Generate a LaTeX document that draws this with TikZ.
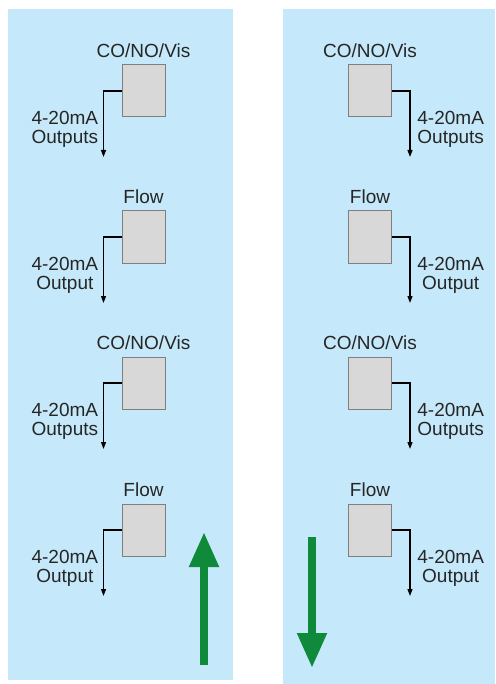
\documentclass[tikz,border=0pt]{standalone}
\usepackage{fontspec}
\setmainfont{Liberation Sans}
\usepackage{tikz}
\usetikzlibrary{positioning, arrows.meta}
\usepackage{xcolor}
\definecolor{panelblue}{HTML}{C5E9FA}
\definecolor{boxgray}{HTML}{D8D8D8}
\definecolor{boxline}{HTML}{7F7F7F}
\definecolor{flowgreen}{HTML}{0F8A3A}

\begin{document}
\begin{tikzpicture}[x=1pt,y=-1pt,thick,
    font=\fontsize{19}{19}\selectfont,
    sensor/.style={draw=boxline,fill=boxgray,line width=1pt,minimum width=43pt,minimum height=52pt,inner sep=0pt},
    tag/.style={inner sep=0pt,text=black!85},
    wire/.style={line width=1.2pt,-{Triangle[length=7pt,width=5pt]}},
    bigarrow/.style={flowgreen,line width=8pt,-{Triangle[length=35pt,width=28pt]}}]
   \useasboundingbox (0,0) rectangle (495,684);
   \fill[panelblue] (8,9) rectangle (233,680);
   \fill[panelblue] (283,9) rectangle (495,684);

   % left column
   \node[sensor] (s1) at (143.5,91) {};
   \node[sensor] (s2) at (143.5,237) {};
   \node[sensor] (s3) at (143.5,383) {};
   \node[sensor] (s4) at (143.5,530) {};
   \node[tag] (n1) [above=6pt of s1] {CO/NO/Vis};
   \node[tag] (n2) [above=6pt of s2] {Flow};
   \node[tag] (n3) [above=6pt of s3] {CO/NO/Vis};
   \node[tag] (n4) [above=6pt of s4] {Flow};
   \coordinate[left=18pt of s1.west] (c1);
   \coordinate[left=18pt of s2.west] (c2);
   \coordinate[left=18pt of s3.west] (c3);
   \coordinate[left=18pt of s4.west] (c4);
   \coordinate[below=66pt of c1] (e1);
   \coordinate[below=66pt of c2] (e2);
   \coordinate[below=66pt of c3] (e3);
   \coordinate[below=66pt of c4] (e4);
   \node[tag,align=center] (o1) [below left=20pt and 5pt of c1] {4-20mA\\Outputs};
   \node[tag,align=center] (o2) [below left=20pt and 5pt of c2] {4-20mA\\Output};
   \node[tag,align=center] (o3) [below left=20pt and 5pt of c3] {4-20mA\\Outputs};
   \node[tag,align=center] (o4) [below left=20pt and 5pt of c4] {4-20mA\\Output};

   % right column
   \node[sensor] (s5) at (370,91) {};
   \node[sensor] (s6) at (370,237) {};
   \node[sensor] (s7) at (370,383) {};
   \node[sensor] (s8) at (370,530) {};
   \node[tag] (n5) [above=6pt of s5] {CO/NO/Vis};
   \node[tag] (n6) [above=6pt of s6] {Flow};
   \node[tag] (n7) [above=6pt of s7] {CO/NO/Vis};
   \node[tag] (n8) [above=6pt of s8] {Flow};
   \coordinate[right=18pt of s5.east] (c5);
   \coordinate[right=18pt of s6.east] (c6);
   \coordinate[right=18pt of s7.east] (c7);
   \coordinate[right=18pt of s8.east] (c8);
   \coordinate[below=66pt of c5] (e5);
   \coordinate[below=66pt of c6] (e6);
   \coordinate[below=66pt of c7] (e7);
   \coordinate[below=66pt of c8] (e8);
   \node[tag,align=center] (o5) [below right=20pt and 7pt of c5] {4-20mA\\Outputs};
   \node[tag,align=center] (o6) [below right=20pt and 7pt of c6] {4-20mA\\Output};
   \node[tag,align=center] (o7) [below right=20pt and 7pt of c7] {4-20mA\\Outputs};
   \node[tag,align=center] (o8) [below right=20pt and 7pt of c8] {4-20mA\\Output};

   \draw[wire] (s1.west) -- (c1) -- (e1);
   \draw[wire] (s2.west) -- (c2) -- (e2);
   \draw[wire] (s3.west) -- (c3) -- (e3);
   \draw[wire] (s4.west) -- (c4) -- (e4);
   \draw[wire] (s5.east) -- (c5) -- (e5);
   \draw[wire] (s6.east) -- (c6) -- (e6);
   \draw[wire] (s7.east) -- (c7) -- (e7);
   \draw[wire] (s8.east) -- (c8) -- (e8);

   % direction of flow
   \coordinate (upfoot) at (204,665);
   \coordinate (uptip) at (204,532);
   \coordinate (downtop) at (312,537);
   \coordinate (downtip) at (312,668);
   \draw[bigarrow] (upfoot) -- (uptip);
   \draw[bigarrow] (downtop) -- (downtip);
\end{tikzpicture}
\end{document}
